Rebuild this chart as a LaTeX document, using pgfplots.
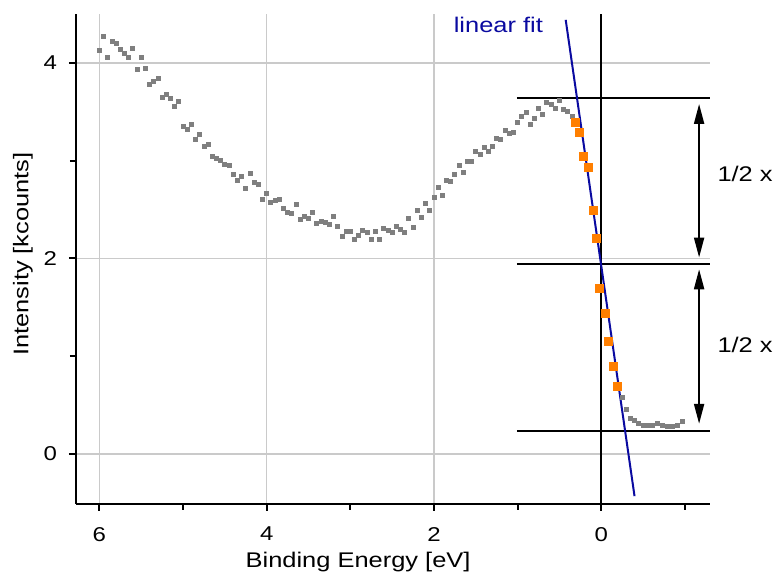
\documentclass[border=0pt]{standalone}
\usepackage{pgfplots}
\pgfplotsset{compat=1.18}
\usepackage{fontspec}
\setmainfont{Liberation Sans}[FakeStretch=1.2]
\usetikzlibrary{arrows.meta}
\definecolor{ptgray}{HTML}{7F7F7F}
\definecolor{ptorange}{HTML}{FF7F00}
\definecolor{fitblue}{HTML}{0A0AA0}
\definecolor{gridgray}{HTML}{CACACA}
\begin{document}
\begin{tikzpicture}
\begin{axis}[
  scale only axis, width=317pt, height=245pt,
  x dir=reverse,
  xmin=-1.30, xmax=6.28, ymin=-0.51, ymax=4.5,
  axis x line*=bottom, axis y line*=left,
  axis line style={line width=1.1pt, black},
  xtick={6,4,2,0}, minor xtick={5,3,1,-1},
  ytick={0,2,4}, minor ytick={1,3},
  tick align=outside,
  major tick length=3.5pt, minor tick length=3pt,
  every tick/.style={black, line width=1pt},
  xmajorgrids, ymajorgrids,
  major grid style={gridgray, line width=0.8pt},
  /pgf/number format/assume math mode=true,
  tick label style={font=\fontsize{10}{12}\selectfont},
  xticklabel style={yshift=-4.5pt},
  yticklabel style={xshift=-2.5pt},
  xlabel={Binding Energy [eV]}, ylabel={Intensity [kcounts]},
  label style={font=\fontsize{10.6}{12}\selectfont},
  xlabel style={at={(axis description cs:0.445,-0.119)}, anchor=center},
  ylabel style={at={(axis description cs:-0.0836,0.51)}, anchor=center},
  clip=false,
]
% gray data
\addplot[only marks, mark=square*, mark size=1.0pt, mark options={draw=ptgray, fill=ptgray}] coordinates {
(6.00,4.13)(5.95,4.27)(5.90,4.06)(5.85,4.22)(5.80,4.20)(5.75,4.14)(5.70,4.10)(5.65,4.06)(5.60,4.15)(5.55,3.93)
(5.50,4.06)(5.45,3.94)(5.40,3.78)(5.35,3.81)(5.30,3.84)(5.25,3.65)(5.20,3.68)(5.15,3.64)(5.10,3.55)(5.05,3.61)
(5.00,3.35)(4.95,3.32)(4.90,3.37)(4.85,3.22)(4.80,3.27)(4.75,3.15)(4.70,3.17)(4.65,3.04)(4.60,3.02)(4.55,3.00)
(4.50,2.96)(4.45,2.95)(4.40,2.86)(4.35,2.80)(4.30,2.84)(4.25,2.72)(4.20,2.87)(4.15,2.78)(4.10,2.76)(4.05,2.60)
(4.00,2.67)(3.95,2.57)(3.90,2.59)(3.85,2.60)(3.80,2.51)(3.75,2.47)(3.70,2.46)(3.65,2.55)(3.60,2.40)(3.55,2.43)
(3.50,2.41)(3.45,2.47)(3.40,2.36)(3.35,2.38)(3.30,2.37)(3.25,2.35)(3.20,2.43)(3.15,2.33)(3.10,2.23)(3.05,2.28)
(3.00,2.28)(2.95,2.20)(2.90,2.24)(2.85,2.29)(2.80,2.27)(2.75,2.20)(2.70,2.28)(2.65,2.20)(2.60,2.31)(2.55,2.29)
(2.50,2.27)(2.45,2.33)(2.40,2.30)(2.35,2.27)(2.30,2.41)(2.25,2.32)(2.20,2.49)(2.15,2.42)(2.10,2.56)(2.05,2.49)
(2.00,2.62)(1.95,2.73)(1.90,2.64)(1.85,2.80)(1.80,2.79)(1.75,2.86)(1.70,2.95)(1.65,2.88)(1.60,2.99)(1.55,2.99)
(1.50,3.10)(1.45,3.06)(1.40,3.14)(1.35,3.10)(1.30,3.15)(1.25,3.23)(1.20,3.22)(1.15,3.31)(1.10,3.28)(1.05,3.29)
(1.00,3.39)(0.95,3.45)(0.90,3.49)(0.85,3.37)(0.80,3.43)(0.75,3.53)(0.70,3.47)(0.65,3.60)(0.60,3.58)(0.55,3.53)
(0.50,3.62)(0.45,3.52)(0.40,3.50)(0.35,3.45)
(-0.25,0.58)(-0.30,0.46)(-0.35,0.37)(-0.40,0.34)(-0.45,0.31)(-0.50,0.29)(-0.55,0.29)(-0.61,0.29)(-0.67,0.31)
(-0.73,0.29)(-0.79,0.28)(-0.85,0.28)(-0.91,0.29)(-0.97,0.33)
};
% orange data (fit range)
\addplot[only marks, mark=square*, mark size=2.0pt, mark options={draw=ptorange, fill=ptorange}] coordinates {
(0.31,3.39)(0.26,3.29)(0.21,3.04)(0.155,2.93)(0.095,2.49)(0.06,2.21)(0.02,1.69)(-0.05,1.44)(-0.08,1.15)(-0.14,0.90)(-0.19,0.69)
};
% horizontal reference lines
\addplot[black, line width=1pt] coordinates {(1.01,3.64)(-1.30,3.64)};
\addplot[black, line width=1pt] coordinates {(1.01,1.94)(-1.30,1.94)};
\addplot[black, line width=1pt] coordinates {(1.01,0.235)(-1.30,0.235)};
% vertical line at 0
\addplot[black, line width=1pt] coordinates {(0,-0.51)(0,4.5)};
% linear fit
\addplot[fitblue, line width=1pt] coordinates {(0.425,4.44)(-0.398,-0.43)};
% arrows
\draw[line width=1pt, {Triangle[width=5pt,length=10pt]}-{Triangle[width=5pt,length=10pt]}] (axis cs:-1.17,3.58) -- (axis cs:-1.17,2.01);
\draw[line width=1pt, {Triangle[width=5pt,length=10pt]}-{Triangle[width=5pt,length=10pt]}] (axis cs:-1.17,1.89) -- (axis cs:-1.17,0.31);
\node[font=\fontsize{10.6}{12}\selectfont] at (axis cs:-1.72,2.86) {1/2 x};
\node[font=\fontsize{10.6}{12}\selectfont] at (axis cs:-1.72,1.12) {1/2 x};
\node[font=\fontsize{10.6}{12}\selectfont, text=fitblue] at (axis cs:1.23,4.39) {linear fit};
\end{axis}
\pgfresetboundingbox
\path (-38pt,-36pt) rectangle (348.5pt,252pt);
\end{tikzpicture}
\end{document}
